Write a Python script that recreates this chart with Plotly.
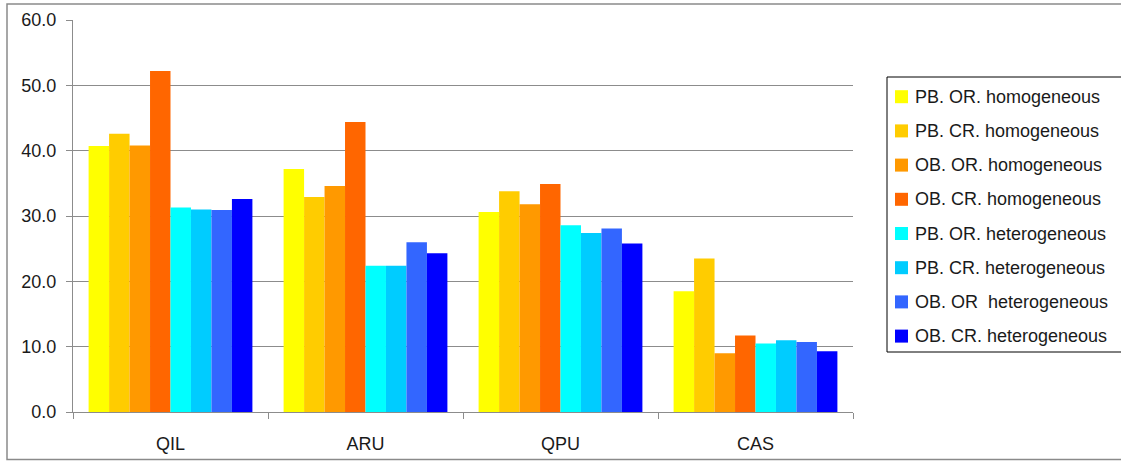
import plotly.graph_objects as go

# Sites on the category axis
categories = ["QIL", "ARU", "QPU", "CAS"]

# Series names (legend order)
series_names = [
    "PB. OR. homogeneous",
    "PB. CR. homogeneous",
    "OB. OR. homogeneous",
    "OB. CR. homogeneous",
    "PB. OR. heterogeneous",
    "PB. CR. heterogeneous",
    "OB. OR  heterogeneous",
    "OB. CR. heterogeneous",
]

# Values per series, one per site
pb_or_hom = [40.7, 37.2, 30.6, 18.5]
pb_cr_hom = [42.6, 32.9, 33.8, 23.5]
ob_or_hom = [40.8, 34.6, 31.8, 9.0]
ob_cr_hom = [52.2, 44.4, 34.9, 11.7]
pb_or_het = [31.3, 22.4, 28.6, 10.5]
pb_cr_het = [31.0, 22.4, 27.4, 11.0]
ob_or_het = [30.9, 26.0, 28.1, 10.7]
ob_cr_het = [32.6, 24.3, 25.8, 9.3]

series_values = [pb_or_hom, pb_cr_hom, ob_or_hom, ob_cr_hom,
                 pb_or_het, pb_cr_het, ob_or_het, ob_cr_het]

series_colors = ["#FFFF00", "#FFCC00", "#FF9900", "#FF6600",
                 "#00FFFF", "#00CCFF", "#3366FF", "#0000FF"]

y_ticks = [0, 10, 20, 30, 40, 50, 60]

FONT = "Liberation Sans"
TEXT = "#1a1a1a"
GRID = "#8c8c8c"
FS = 18

W, H = 1121, 461
ML, MR, MT, MB = 73, 268, 20, 49
pw, ph = W - ML - MR, H - MT - MB


def px_x(p):
    """Pixel column -> paper x."""
    return (p - ML) / pw


def px_y(p):
    """Pixel row -> paper y."""
    return (H - MB - p) / ph


fig = go.Figure()
for name, vals, col in zip(series_names, series_values, series_colors):
    fig.add_trace(go.Bar(
        x=categories, y=vals, name=name,
        marker=dict(color=col, line=dict(width=0)),
        showlegend=False,
    ))

# Boxed legend on the right: chart frame, legend frame, swatches and labels
shapes = [
    dict(type="rect", xref="paper", yref="paper",
         x0=px_x(7), x1=px_x(1125), y0=px_y(459.5), y1=px_y(4),
         line=dict(color="#8a8a8a", width=1.5), fillcolor="rgba(0,0,0,0)",
         layer="below"),
    dict(type="rect", xref="paper", yref="paper",
         x0=px_x(887), x1=px_x(1124), y0=px_y(352), y1=px_y(77),
         line=dict(color="#000000", width=1), fillcolor="white",
         layer="below"),
]
annotations = []
row0, row_step = 96.7, 34.2
for i, (name, col) in enumerate(zip(series_names, series_colors)):
    cy = row0 + i * row_step
    shapes.append(dict(
        type="rect", xref="paper", yref="paper",
        x0=px_x(895), x1=px_x(908), y0=px_y(cy + 6.5), y1=px_y(cy - 6.5),
        line=dict(width=0), fillcolor=col, layer="above",
    ))
    annotations.append(dict(
        xref="paper", yref="paper", x=px_x(913), y=px_y(cy),
        xanchor="left", yanchor="middle", showarrow=False,
        text=name, font=dict(family=FONT, size=FS, color=TEXT),
    ))

fig.update_layout(
    width=W, height=H,
    margin=dict(l=ML, r=MR, t=MT, b=MB, pad=0, autoexpand=False),
    paper_bgcolor="white", plot_bgcolor="white",
    barmode="group", bargap=0.16, bargroupgap=0,
    font=dict(family=FONT, size=FS, color=TEXT),
    showlegend=False,
    xaxis=dict(
        type="category",
        showline=True, linecolor=GRID, linewidth=1,
        ticks="outside", tickson="boundaries", ticklen=6,
        tickcolor=GRID, tickwidth=1,
        showgrid=False, zeroline=False,
        ticklabelstandoff=15,
        automargin=False,
        fixedrange=True,
    ),
    yaxis=dict(
        range=[0, 60],
        tickvals=y_ticks, tickformat=".1f",
        showline=True, linecolor=GRID, linewidth=1,
        ticks="outside", ticklen=6, tickcolor=GRID, tickwidth=1,
        showgrid=True, gridcolor=GRID, gridwidth=1,
        zeroline=False,
        ticklabelstandoff=6,
        automargin=False,
        fixedrange=True,
    ),
    shapes=shapes,
    annotations=annotations,
)

fig.write_html("out.html", config={"displayModeBar": False})
